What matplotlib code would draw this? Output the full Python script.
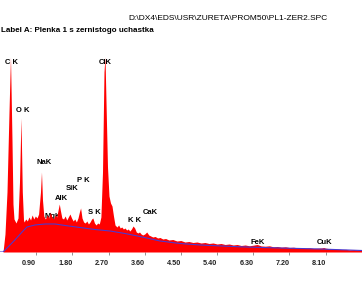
import matplotlib
matplotlib.use('Agg')
import matplotlib.pyplot as plt

# Spectrum outline (energy in keV, counts)
energy = [0.000, 0.075, 0.124, 0.174, 0.224, 0.261, 0.299, 0.323, 0.348, 0.398,
          0.448, 0.485, 0.522, 0.555, 0.585,
          0.60, 0.64, 0.68, 0.72, 0.76, 0.80, 0.84, 0.88, 0.92, 0.96,
          1.007, 1.032, 1.057, 1.09, 1.13, 1.17, 1.21, 1.25, 1.29, 1.33,
          1.37, 1.41, 1.45, 1.475, 1.50, 1.54, 1.58, 1.62, 1.66, 1.70,
          1.74, 1.78, 1.82, 1.86, 1.90, 1.94, 1.975, 2.005, 2.04, 2.08,
          2.12, 2.16, 2.20, 2.24, 2.28, 2.31, 2.35, 2.39, 2.43, 2.47,
          2.51, 2.55, 2.587, 2.612, 2.637, 2.674, 2.711, 2.749, 2.786, 2.823,
          2.861, 2.91, 2.95, 2.99, 3.03, 3.07, 3.11, 3.15, 3.19, 3.23,
          3.27, 3.31, 3.35, 3.39, 3.43, 3.47, 3.51, 3.55, 3.60, 3.65,
          3.70, 3.75, 3.80, 3.86, 3.92, 3.98, 4.05, 4.12, 4.2, 4.3,
          4.4, 4.5, 4.6, 4.7, 4.8, 4.9, 5.0, 5.1, 5.2, 5.3,
          5.4, 5.5, 5.6, 5.7, 5.8, 5.9, 6.0, 6.1, 6.2, 6.3,
          6.4, 6.5, 6.6, 6.7, 6.8, 6.9, 7.0, 7.1, 7.2, 7.3,
          7.4, 7.5, 7.6, 7.7, 7.8, 7.9, 8.0, 8.05, 8.1, 8.2,
          8.3, 8.4, 8.5, 8.6, 8.7, 8.8, 8.9, 9.005]
counts = [0, 0, 180, 600, 1400, 1950, 1100, 480, 330, 290,
          340, 700, 1340, 600, 320,
          300, 330, 310, 350, 320, 370, 330, 360, 340, 380,
          600, 800, 520, 360, 330, 370, 340, 400, 350, 330,
          370, 350, 430, 480, 420, 340, 330, 360, 320, 350,
          380, 340, 310, 330, 300, 340, 400, 440, 340, 300,
          290, 310, 280, 300, 330, 340, 290, 270, 290, 280,
          350, 800, 1800, 1950, 1500, 850, 560, 490, 460, 360,
          270, 250, 270, 240, 250, 230, 240, 220, 230, 210,
          230, 260, 240, 200, 190, 200, 180, 170, 180, 200,
          170, 160, 150, 155, 140, 145, 130, 135, 120, 125,
          110, 115, 100, 105, 95, 100, 90, 95, 85, 90,
          80, 85, 75, 80, 70, 75, 65, 70, 62, 68,
          75, 60, 58, 62, 52, 55, 48, 52, 45, 48,
          42, 45, 40, 42, 36, 38, 40, 45, 38, 33,
          30, 28, 25, 26, 22, 24, 20, 20]

# Fitted background line
bg_energy = [0.0, 0.075, 0.2, 0.37, 0.55, 0.67, 0.87, 1.12, 1.37, 1.62,
             1.99, 2.36, 2.74, 3.11, 3.48, 3.98, 4.48, 4.98, 5.97, 6.97,
             7.96, 9.005]
bg_counts = [0, 0, 50, 120, 200, 250, 270, 280, 280, 265,
             245, 225, 210, 185, 155, 110, 85, 70, 52, 40,
             30, 15]

peak_labels = ['C K', 'O K', 'NaK', 'MgK', 'AlK', 'SiK', 'P K', 'S K',
               'ClK', 'K K', 'CaK', 'FeK', 'CuK']
label_x = [0.274, 0.572, 1.095, 1.306, 1.517, 1.791, 2.065, 2.338,
           2.612, 3.358, 3.731, 6.418, 8.085]
label_y = [1890, 1410, 890, 350, 530, 630, 720, 390,
           1890, 310, 400, 100, 90]

tick_pos = [0.9, 1.8, 2.7, 3.6, 4.5, 5.4, 6.3, 7.2, 8.1]
tick_text = ['0.90', '1.80', '2.70', '3.60', '4.50', '5.40', '6.30', '7.20', '8.10']

fig = plt.figure(figsize=(3.62, 2.82), dpi=100)
fig.patch.set_facecolor('white')
ax = fig.add_axes([0, 30 / 282, 1, 197 / 282])
ax.set_xlim(0, 9.005)
ax.set_ylim(0, 1970)

ax.fill_between(energy, counts, 0, color='#ff0000', linewidth=0, zorder=2)
ax.plot(bg_energy, bg_counts, color='#4a3ad0', linewidth=0.8, zorder=3)

for name, x, y in zip(peak_labels, label_x, label_y):
    ax.text(x, y, name, ha='center', va='center', fontsize=5.5,
            family='Liberation Sans', fontweight='bold', color='black', zorder=1)

for s in ax.spines.values():
    s.set_visible(False)
ax.set_yticks([])
ax.set_xticks(tick_pos)
ax.set_xticklabels(tick_text, ha='right', fontsize=5.2, family='Liberation Sans',
                   fontweight='bold', color='#222222')
ax.tick_params(axis='x', direction='out', length=2.5, width=0.6,
               color='#808080', pad=3.5)

fig.text(128 / 362, 1 - 19 / 282, r'D:\DX4\EDS\USR\ZURETA\PROM50\PL1-ZER2.SPC',
         ha='left', va='center', fontsize=6, family='Liberation Sans', color='black')
fig.text(1 / 362, 1 - 31 / 282, 'Label A: Plenka 1 s zernistogo uchastka',
         ha='left', va='center', fontsize=5.8, family='Liberation Sans',
         fontweight='bold', color='black')

fig.savefig('out.png', dpi=100, facecolor='white')
